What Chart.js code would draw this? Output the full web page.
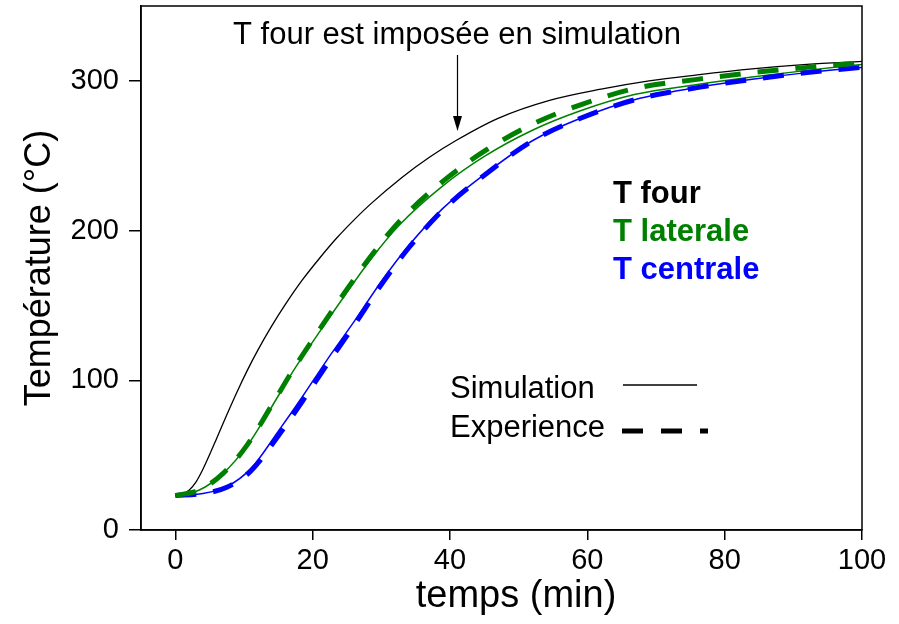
<!DOCTYPE html>
<html lang="fr">
<head>
<meta charset="UTF-8">
<title>Température</title>
<style>
  html, body { margin: 0; padding: 0; background: #fff; }
  #wrap { width: 899px; height: 624px; }
</style>
</head>
<body>
<div id="wrap"><canvas id="tempChart" width="899" height="624"></canvas></div>
<script src="https://cdn.jsdelivr.net/npm/chart.js"></script>
<script>
// temps (min) et températures (°C)
const tFour = [0, 1, 2, 3, 4, 5, 6, 7.5, 9, 10.5, 12, 14, 16, 18.5, 21, 23.5, 26, 28.5, 33, 37, 41, 47, 54.5, 62, 69, 76, 84, 92, 100];
const yFour = [23, 23.9, 26.6, 32, 40.4, 50.4, 61, 77, 92.4, 106.8, 120, 136, 150.5, 167, 181.5, 195, 207, 218, 235.5, 249, 260.5, 275, 287, 294.5, 300, 304, 308, 311, 313];

const tLat = [0, 3.5, 7, 10.5, 14, 17, 20.5, 24.5, 28.5, 32.7, 39, 45, 52, 59, 67, 76, 84, 92, 100];
const yLatSim = [23, 26.7, 38, 56.5, 82, 105, 129, 155.5, 181, 204, 230, 249.5, 267, 280, 291, 297.5, 302.5, 307, 311];
const yLatExp = [23, 26.7, 38, 57, 83, 106, 130.5, 157.5, 183, 206.5, 233, 253, 271, 284, 295, 301, 305.5, 309, 312];

const tCen = [0, 4, 7.5, 11, 15, 18.5, 22, 26, 30, 34, 39, 45, 52, 59, 67, 76, 84, 92, 100];
const yCenSim = [23, 24.4, 29, 41, 66, 89, 113, 139, 166, 190, 215, 237.5, 260, 275, 287.5, 295.5, 301, 305.5, 309];
const yCenExp = [23, 24.4, 28.5, 39.5, 63, 86, 110, 136.5, 164, 188.5, 214, 237, 260, 275, 287.5, 295.5, 301, 305.5, 309];

const xTicks = [0, 20, 40, 60, 80, 100];
const yTicks = [0, 100, 200, 300];

const FONT = "'Liberation Sans', Arial, sans-serif";

function pts(xs, ys) {
    return xs.map((x, i) => ({ x: x, y: ys[i] }));
}

function serie(xs, ys, color, dashed, width) {
    return {
        data: pts(xs, ys),
        borderColor: color,
        borderWidth: dashed ? 5 : width,
        borderDash: dashed ? [21, 17] : [],
        pointRadius: 0,
        fill: false,
        cubicInterpolationMode: 'monotone'
    };
}

// cadre, titre de l'axe x, annotation et légende dessinés à la main
const decor = {
    id: 'decor',
    afterDraw(chart) {
        const c = chart.ctx;
        const a = chart.chartArea;
        c.save();
        c.strokeStyle = '#000';
        c.lineWidth = 1.5;
        c.strokeRect(a.left, a.top, a.right - a.left, a.bottom - a.top);

        c.fillStyle = '#000';
        c.textAlign = 'center';
        c.textBaseline = 'alphabetic';
        c.font = '38px ' + FONT;
        c.fillText('temps (min)', 516, 607);

        c.font = '31px ' + FONT;
        c.fillText('T four est imposée en simulation', 457, 44);

        // flèche
        c.lineWidth = 1.2;
        c.beginPath();
        c.moveTo(457.5, 55);
        c.lineTo(457.5, 120);
        c.stroke();
        c.beginPath();
        c.moveTo(457.5, 131);
        c.lineTo(453, 116);
        c.lineTo(462, 116);
        c.closePath();
        c.fill();

        c.textAlign = 'left';
        c.font = 'bold 31px ' + FONT;
        c.fillStyle = '#000';
        c.fillText('T four', 613, 203);
        c.fillStyle = '#008000';
        c.fillText('T laterale', 613, 241);
        c.fillStyle = '#0000ff';
        c.fillText('T centrale', 613, 279);

        c.fillStyle = '#000';
        c.font = '31px ' + FONT;
        c.fillText('Simulation', 450, 398);
        c.fillText('Experience', 450, 437);
        c.lineWidth = 1.5;
        c.beginPath();
        c.moveTo(623, 385);
        c.lineTo(697, 385);
        c.stroke();
        c.lineWidth = 5;
        c.setLineDash([21, 18]);
        c.beginPath();
        c.moveTo(622, 431);
        c.lineTo(708, 431);
        c.stroke();
        c.restore();
    }
};

const ctx = document.getElementById('tempChart').getContext('2d');
const tempChart = new Chart(ctx, {
    type: 'line',
    data: {
        datasets: [
            serie(tLat, yLatExp, '#008000', true),
            serie(tCen, yCenExp, '#0000ff', true),
            serie(tFour, yFour, '#000000', false, 1.3),
            serie(tLat, yLatSim, '#008000', false, 1.5),
            serie(tCen, yCenSim, '#0000ff', false, 1.5)
        ]
    },
    options: {
        responsive: false,
        animation: false,
        layout: { padding: { top: 6, right: 37, left: 0, bottom: 0 } },
        plugins: { legend: { display: false }, tooltip: { enabled: false } },
        scales: {
            x: {
                type: 'linear',
                min: -5,
                max: 100,
                afterBuildTicks: s => { s.ticks = xTicks.map(v => ({ value: v })); },
                afterFit: s => { s.height = 94; },
                grid: { drawOnChartArea: false, drawTicks: true, tickLength: 10, color: '#000', lineWidth: 1.5 },
                border: { display: true, color: '#000', width: 1.5 },
                ticks: { color: '#000', font: { family: FONT, size: 29 }, padding: 4, maxRotation: 0 },
                title: { display: false }
            },
            y: {
                min: 0,
                max: 350,
                afterBuildTicks: s => { s.ticks = yTicks.map(v => ({ value: v })); },
                afterFit: s => { s.width = 141; s.paddingTop = 0; s.paddingBottom = 0; },
                grid: { drawOnChartArea: false, drawTicks: true, tickLength: 12, color: '#000', lineWidth: 1.5 },
                border: { display: true, color: '#000', width: 1.5 },
                ticks: { color: '#000', font: { family: FONT, size: 29 }, padding: 10 },
                title: { display: true, text: 'Température (°C)', color: '#000', font: { family: FONT, size: 36 }, padding: { top: 18, bottom: 0 } }
            }
        }
    },
    plugins: [decor]
});
</script>
</body>
</html>
